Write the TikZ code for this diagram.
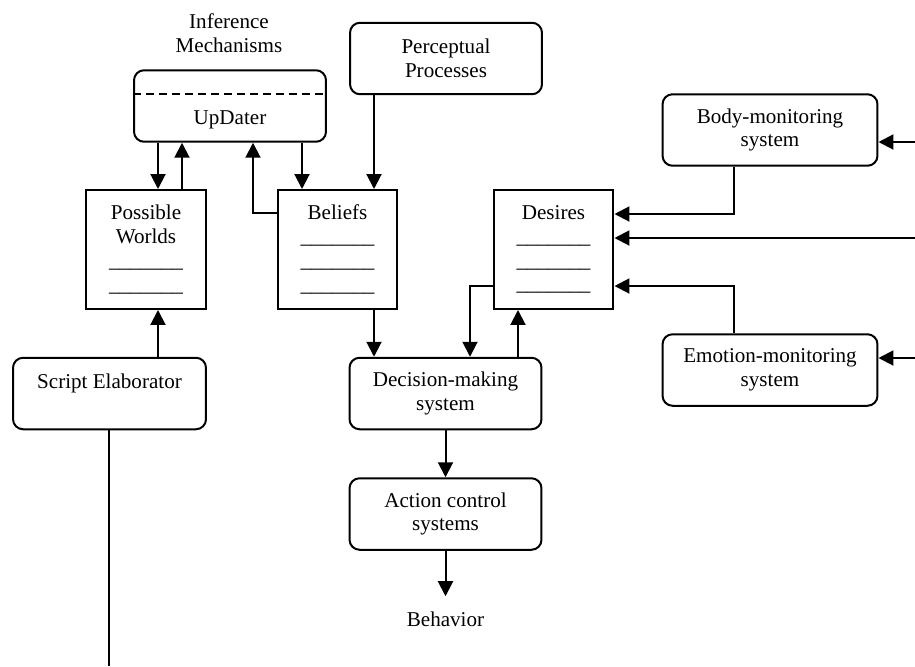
\documentclass[tikz,border=0pt]{standalone}
\usepackage{fontspec}
\setmainfont{Liberation Serif}
\usetikzlibrary{arrows.meta}
\newcommand{\emptyrow}{\_\_\_\_\_\_\_}
\begin{document}
\begin{tikzpicture}[x=0.02cm,y=-0.02cm,
    every node/.style={font=\fontsize{12}{13.6}\selectfont,align=center},
    box/.style={draw,line width=0.04cm,rounded corners=0.2cm,minimum width=3.84cm,minimum height=1.43cm,inner sep=0pt},
    store/.style={draw,line width=0.04cm,minimum width=2.4cm,minimum height=2.38cm,inner sep=0pt},
    arr/.style={line width=0.04cm,-{Triangle[length=0.3cm,width=0.3cm]}}]
  \useasboundingbox (0,0) rectangle (915,666);
  \node (infer) at (229,33) {Inference\\Mechanisms};
  \node[box] (updater) at (230,106) {\strut\\UpDater};
  \draw[line width=0.04cm,dash pattern=on 0.16cm off 0.1cm]
    (updater.west |- 0,94) -- (updater.east |- 0,94);
  \node[box] (percep) at (446,58.5) {Perceptual\\Processes};
  \node[box,minimum width=4.3cm] (body) at (770,130) {Body-monitoring\\system};
  \node[store] (pw) at (146,249.5) {Possible\\Worlds\\\emptyrow\\\emptyrow};
  \node[store] (beliefs) at (337.5,249.5) {Beliefs\\\emptyrow\\\emptyrow\\\emptyrow};
  \node[store] (desires) at (553.5,249.5) {Desires\\\emptyrow\\\emptyrow\\\emptyrow};
  \node[box,minimum width=3.86cm] (script) at (109.5,393.5) {Script Elaborator\\\mbox{}};
  \node[box] (decision) at (445.5,393.5) {Decision-making\\system};
  \node[box,minimum width=4.3cm] (emotion) at (770,370) {Emotion-monitoring\\system};
  \node[box] (action) at (445.5,514) {Action control\\systems};
  \node[inner ysep=0.3cm] (behavior) at (445.5,619) {Behavior};
  \coordinate (inbody) at (915,142);
  \coordinate (indesires) at (915,238);
  \coordinate (inemotion) at (915,358);
  \coordinate (scriptend) at (109,666);
  \draw[arr] (updater.south -| 158,0) -- (pw.north -| 158,0);
  \draw[arr] (pw.north -| 182,0) -- (updater.south -| 182,0);
  \draw[arr] (beliefs.west |- 0,213) -| (updater.south -| 253,0);
  \draw[arr] (updater.south -| 302,0) -- (beliefs.north -| 302,0);
  \draw[arr] (percep.south -| 374,0) -- (beliefs.north -| 374,0);
  \draw[arr] (beliefs.south -| 374,0) -- (decision.north -| 374,0);
  \draw[arr] (script.north -| 158,0) -- (pw.south -| 158,0);
  \draw[line width=0.04cm] (script.south -| scriptend) -- (scriptend);
  \draw[arr] (desires.west |- 0,286) -| (decision.north -| 470,0);
  \draw[arr] (decision.north -| 518,0) -- (desires.south -| 518,0);
  \draw[arr] (body.south -| 734,0) |- (desires.east |- 0,214);
  \draw[arr] (emotion.north -| 734,0) |- (desires.east |- 0,286);
  \draw[arr] (inbody) -- (body.east |- inbody);
  \draw[arr] (indesires) -- (desires.east |- indesires);
  \draw[arr] (inemotion) -- (emotion.east |- inemotion);
  \draw[arr] (decision) -- (action);
  \draw[arr] (action) -- (behavior);
\end{tikzpicture}
\end{document}
